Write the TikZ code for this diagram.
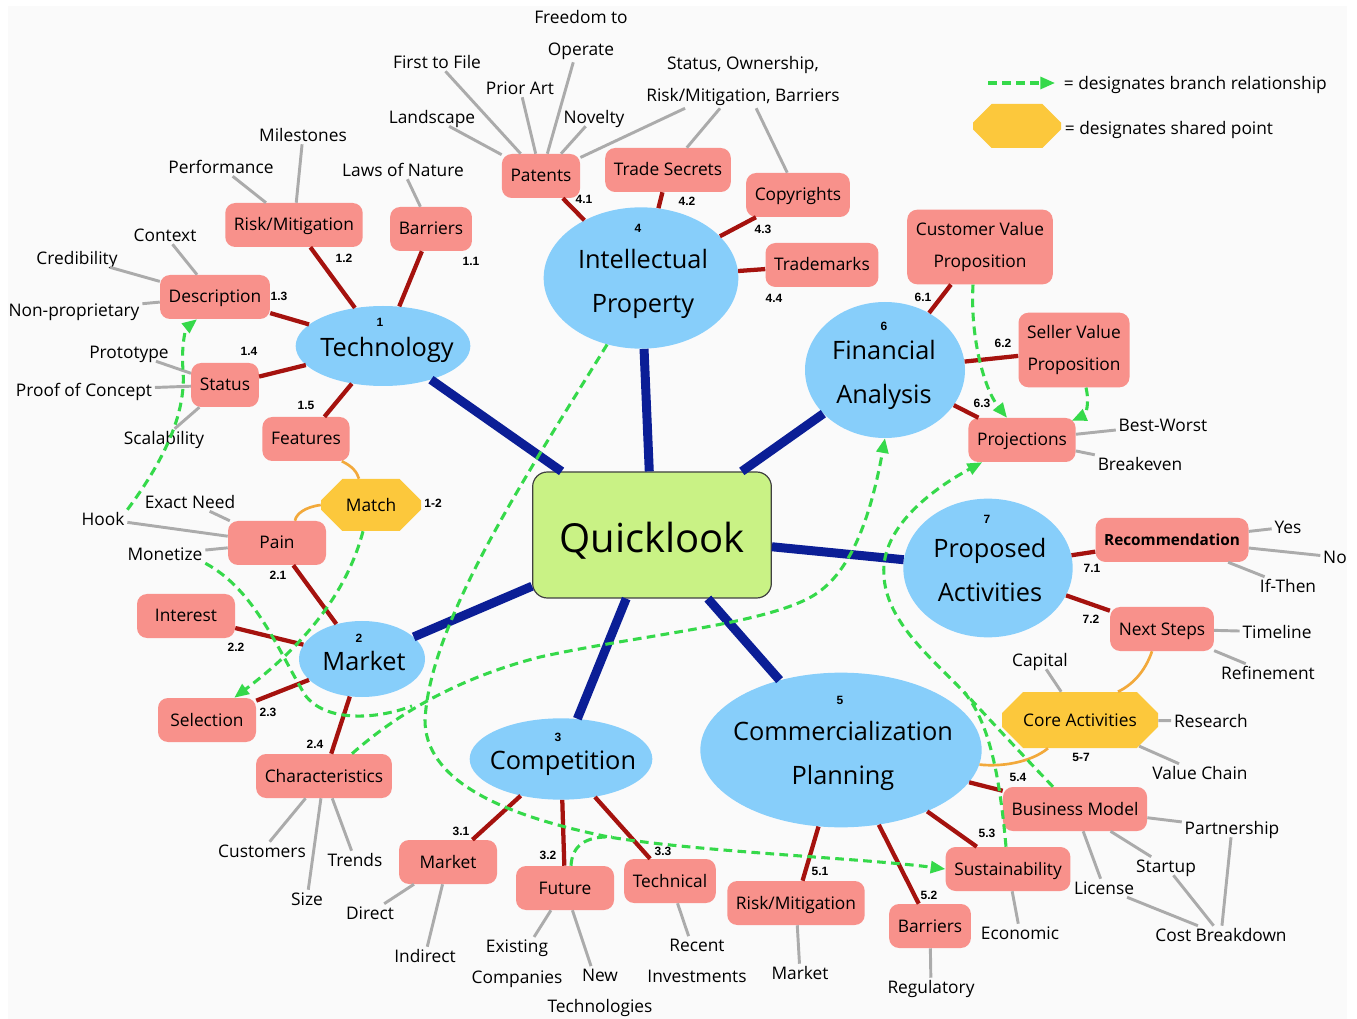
\documentclass[tikz,border=0pt]{standalone}
\usepackage{fontspec}
\setmainfont{Open Sans}
\newfontfamily\numfont{Liberation Sans}
\usetikzlibrary{shapes.geometric,shapes.misc,arrows.meta,calc}

\definecolor{paper}{HTML}{FAFAFA}
\definecolor{hubblue}{HTML}{87CEFA}
\definecolor{topicred}{HTML}{F8918B}
\definecolor{sharedyellow}{HTML}{FCC83C}
\definecolor{rootgreen}{HTML}{C9F285}
\definecolor{trunkblue}{HTML}{0B1E96}
\definecolor{twigred}{HTML}{A5120E}
\definecolor{leafgrey}{HTML}{ABABAB}
\definecolor{branchgreen}{HTML}{35D94A}
\definecolor{tieorange}{HTML}{F2A93B}

\begin{document}
\begin{tikzpicture}[x=0.75pt,y=-0.75pt,>={Triangle[length=11pt,width=9pt]},
    root/.style={rectangle,rounded corners=11pt,fill=rootgreen,draw=black!75,line width=0.9pt,minimum width=179pt,minimum height=94.5pt,font=\fontsize{30}{30}\selectfont,text height=27pt,text depth=0pt},
    hub/.style={ellipse,fill=hubblue,inner sep=0pt},
    hubtext/.style={font=\fontsize{19}{33.5}\selectfont,align=center,inner sep=0pt},
    num/.style={font=\numfont\bfseries\fontsize{9}{9}\selectfont,inner sep=0pt},
    topicbase/.style={rectangle,rounded corners=7.5pt,fill=topicred,inner xsep=6.5pt,minimum height=33pt,align=center,font=\fontsize{13}{23.5}\selectfont},
    topic/.style={topicbase,text height=11pt,text depth=2pt},
    leaf/.style={inner sep=2pt,font=\fontsize{13}{23.5}\selectfont,text height=9.5pt,text depth=0pt},
    leaftwo/.style={inner sep=2pt,font=\fontsize{13}{23.5}\selectfont,align=center},
    shared/.style={chamfered rectangle,fill=sharedyellow,inner sep=0pt,font=\fontsize{13}{23.5}\selectfont},
    trunk/.style={draw=trunkblue,line width=6.75pt},
    twig/.style={draw=twigred,line width=3.2pt},
    leafline/.style={draw=leafgrey,line width=2.2pt},
    branch/.style={draw=branchgreen,line width=2.3pt,dash pattern=on 6.5pt off 4pt},
    tie/.style={draw=tieorange,line width=2pt}]

    \useasboundingbox (0,0) rectangle (1357,1019);
    \fill[paper] (8,6) rectangle (1347,1019);

    % centre
    \node[root] (ql) at (652,535) {Quicklook};

    % main topics
    \node[hub,minimum width=131pt,minimum height=60pt] (tech) at (383,346) {};
    \node[hubtext] (techT) at (387,350) {Technology};
    \node[num] (techN) at (380,322) {1};

    \node[hub,minimum width=94.5pt,minimum height=57pt] (mkt) at (362,659) {};
    \node[hubtext] (mktT) at (364,661) {Market};
    \node[num] (mktN) at (359,638) {2};

    \node[hub,minimum width=137pt,minimum height=61pt] (comp) at (561,759) {};
    \node[hubtext] (compT) at (563,763) {Competition};
    \node[num] (compN) at (558,737) {3};

    \node[hub,minimum width=146pt,minimum height=106pt] (ip) at (641,278) {};
    \node[hubtext] (ipT) at (643,284) {Intellectual\\Property};
    \node[num] (ipN) at (638,228) {4};

    \node[hub,minimum width=211pt,minimum height=116pt] (comm) at (841,750) {};
    \node[hubtext] (commT) at (843,756) {Commercialization\\Planning};
    \node[num] (commN) at (840,700) {5};

    \node[hub,minimum width=120pt,minimum height=102pt] (fin) at (885,370) {};
    \node[hubtext] (finT) at (884,375) {Financial\\Analysis};
    \node[num] (finN) at (884,326) {6};

    \node[hub,minimum width=127pt,minimum height=104pt] (prop) at (988,568) {};
    \node[hubtext] (propT) at (990,570) {Proposed\\Activities};
    \node[num] (propN) at (987,519) {7};

    % technology
    \node[topic] (barr1) at (431,229) {Barriers};
    \node[topic] (risk1) at (294,225) {Risk/Mitigation};
    \node[topic] (desc) at (215,297) {Description};
    \node[topic] (stat) at (225,385) {Status};
    \node[topic] (feat) at (306,439) {Features};
    \node[leaf] (lawn) at (403,170) {Laws of Nature};
    \node[leaf] (perf) at (221,167) {Performance};
    \node[leaf] (mile) at (303,135) {Milestones};
    \node[leaf] (ctx) at (165,235) {Context};
    \node[leaf] (cred) at (77,258) {Credibility};
    \node[leaf] (nonp) at (74,310) {Non-proprietary};
    \node[leaf] (prot) at (129,352) {Prototype};
    \node[leaf] (poc) at (84,390) {Proof of Concept};
    \node[leaf] (scal) at (164,438) {Scalability};

    % market
    \node[shared,minimum width=75pt,minimum height=39pt,chamfered rectangle xsep=15pt,chamfered rectangle ysep=11pt] (match) at (371,505) {Match};
    \node[topic,minimum width=73.5pt] (pain) at (277,543) {Pain};
    \node[topic,minimum width=73.5pt] (intr) at (186,616) {Interest};
    \node[topic,minimum width=73.5pt] (sel) at (207,720) {Selection};
    \node[topic] (chr) at (324,776) {Characteristics};
    \node[leaf] (exn) at (190,502) {Exact Need};
    \node[leaf] (hook) at (103,519) {Hook};
    \node[leaf] (mon) at (165,554) {Monetize};
    \node[leaf] (cust) at (262,851) {Customers};
    \node[leaf] (size) at (307,899) {Size};
    \node[leaf] (trnd) at (355,860) {Trends};

    % competition
    \node[topic,minimum width=73.5pt] (cmkt) at (448,862) {Market};
    \node[topic,minimum width=73.5pt] (fut) at (565,888) {Future};
    \node[topic] (tecn) at (670,881) {Technical};
    \node[leaf] (dir) at (370,913) {Direct};
    \node[leaf] (indr) at (425,956) {Indirect};
    \node[leaftwo] (exco) at (517,964) {Existing\\Companies};
    \node[leaftwo] (newt) at (600,993) {New\\Technologies};
    \node[leaftwo] (rcnt) at (697,961) {Recent\\Investments};

    % intellectual property
    \node[topic] (pat) at (541,176) {Patents};
    \node[topic] (trs) at (668,170) {Trade Secrets};
    \node[topic] (cpy) at (798,195) {Copyrights};
    \node[topic] (tmk) at (822,265) {Trademarks};
    \node[leaf] (land) at (432,117) {Landscape};
    \node[leaf] (fst) at (437,62) {First to File};
    \node[leaf] (prior) at (520,88) {Prior Art};
    \node[leaftwo] (fto) at (581,35) {Freedom to\\Operate};
    \node[leaf] (nov) at (594,117) {Novelty};
    \node[leaftwo] (sorb) at (743,81) {Status, Ownership,\\Risk/Mitigation, Barriers};

    % financial analysis
    \node[topicbase,minimum height=56pt] (cvp) at (980,247) {Customer Value\\Proposition};
    \node[topicbase,minimum height=56pt] (svp) at (1074,350) {Seller Value\\Proposition};
    \node[topic] (proj) at (1022,440) {Projections};
    \node[leaf] (bw) at (1163,425) {Best-Worst};
    \node[leaf] (brk) at (1140,464) {Breakeven};

    % proposed activities
    \node[topic,font=\fontsize{11.5}{14}\selectfont\bfseries] (rec) at (1172,540) {Recommendation};
    \node[topic] (nxt) at (1162,629) {Next Steps};
    \node[leaf] (yes) at (1288,527) {Yes};
    \node[leaf] (no) at (1335,557) {No};
    \node[leaf] (ift) at (1288,586) {If-Then};
    \node[leaf] (tline) at (1277,632) {Timeline};
    \node[leaf] (refn) at (1268,673) {Refinement};

    % commercialization planning
    \node[shared,minimum width=117pt,minimum height=42pt,chamfered rectangle xsep=23pt,chamfered rectangle ysep=11pt] (core) at (1080,720) {Core Activities};
    \node[topic] (crm) at (796,903) {Risk/Mitigation};
    \node[topic] (cbar) at (930,926) {Barriers};
    \node[topic] (sus) at (1008,869) {Sustainability};
    \node[topic] (bm) at (1075,809) {Business Model};
    \node[leaf] (capt) at (1040,660) {Capital};
    \node[leaf] (resr) at (1211,721) {Research};
    \node[leaf] (vch) at (1200,773) {Value Chain};
    \node[leaf] (cmk) at (800,973) {Market};
    \node[leaf] (reg) at (931,987) {Regulatory};
    \node[leaf] (eco) at (1020,933) {Economic};
    \node[leaf] (part) at (1232,828) {Partnership};
    \node[leaf] (stup) at (1166,866) {Startup};
    \node[leaf] (lic) at (1104,888) {License};
    \node[leaf] (cbd) at (1221,935) {Cost Breakdown};

    % numbers
    \node[num] (n11) at (471,261) {1.1};
    \node[num] (n12) at (344,258) {1.2};
    \node[num] (n13) at (279,296) {1.3};
    \node[num] (n14) at (249,351) {1.4};
    \node[num] (n15) at (306,405) {1.5};
    \node[num] (n12m) at (433,503) {1-2};
    \node[num] (n21) at (278,575) {2.1};
    \node[num] (n22) at (236,647) {2.2};
    \node[num] (n23) at (268,712) {2.3};
    \node[num] (n24) at (315,744) {2.4};
    \node[num] (n31) at (461,831) {3.1};
    \node[num] (n32) at (548,855) {3.2};
    \node[num] (n33) at (663,851) {3.3};
    \node[num] (n41) at (584,199) {4.1};
    \node[num] (n42) at (687,201) {4.2};
    \node[num] (n43) at (763,229) {4.3};
    \node[num] (n44) at (774,298) {4.4};
    \node[num] (n51) at (820,871) {5.1};
    \node[num] (n52) at (929,895) {5.2};
    \node[num] (n53) at (987,833) {5.3};
    \node[num] (n54) at (1018,777) {5.4};
    \node[num] (n57) at (1081,757) {5-7};
    \node[num] (n61) at (923,297) {6.1};
    \node[num] (n62) at (1003,343) {6.2};
    \node[num] (n63) at (982,403) {6.3};
    \node[num] (n71) at (1092,568) {7.1};
    \node[num] (n72) at (1091,619) {7.2};

    % key
    \coordinate (keyS) at (988,83);
    \coordinate (keyE) at (1055,83);
    \node[leaf,anchor=west] (keyA) at (1061,83) {= designates branch relationship};
    \node[shared,minimum width=66pt,minimum height=33pt,chamfered rectangle xsep=19pt,chamfered rectangle ysep=9pt] (keyO) at (1017,126) {\phantom{Match}};
    \node[leaf,anchor=west] (keyB) at (1062,128) {= designates shared point};

    % trunks
    \draw[trunk] (ql) -- (tech);
    \draw[trunk] (ql) -- (ip);
    \draw[trunk] (ql) -- (fin);
    \draw[trunk] (ql) -- (prop);
    \draw[trunk] (ql) -- (comm);
    \draw[trunk] (ql) -- (comp);
    \draw[trunk] (ql) -- (mkt);

    % twigs
    \draw[twig] (tech) -- (barr1);
    \draw[twig] (tech) -- (risk1);
    \draw[twig] (tech) -- (desc);
    \draw[twig] (tech) -- (stat);
    \draw[twig] (tech) -- (feat);
    \draw[twig] (mkt) -- (pain);
    \draw[twig] (mkt) -- (intr);
    \draw[twig] (mkt) -- (sel);
    \draw[twig] (mkt) -- (chr);
    \draw[twig] (comp) -- (cmkt);
    \draw[twig] (comp) -- (fut);
    \draw[twig] (comp) -- (tecn);
    \draw[twig] (ip) -- (pat);
    \draw[twig] (ip) -- (trs);
    \draw[twig] (ip) -- (cpy);
    \draw[twig] (ip) -- (tmk);
    \draw[twig] (fin) -- (cvp);
    \draw[twig] (fin) -- (svp);
    \draw[twig] (fin) -- (proj);
    \draw[twig] (prop) -- (rec);
    \draw[twig] (prop) -- (nxt);
    \draw[twig] (comm) -- (crm);
    \draw[twig] (comm) -- (cbar);
    \draw[twig] (comm) -- (sus);
    \draw[twig] (comm) -- (bm);

    % leaves
    \draw[leafline] (barr1) -- (lawn);
    \draw[leafline] (risk1) -- (perf);
    \draw[leafline] (risk1) -- (mile);
    \draw[leafline] (desc) -- (ctx);
    \draw[leafline] (desc) -- (cred);
    \draw[leafline] (desc) -- (nonp);
    \draw[leafline] (stat) -- (prot);
    \draw[leafline] (stat) -- (poc);
    \draw[leafline] (stat) -- (scal);
    \draw[leafline] (pain) -- (exn);
    \draw[leafline] (pain) -- (hook);
    \draw[leafline] (pain) -- (mon);
    \draw[leafline] (chr) -- (cust);
    \draw[leafline] (chr) -- (size);
    \draw[leafline] (chr) -- (trnd);
    \draw[leafline] (cmkt) -- (dir);
    \draw[leafline] (cmkt) -- (indr);
    \draw[leafline] (fut) -- (exco);
    \draw[leafline] (fut) -- (newt);
    \draw[leafline] (tecn) -- (rcnt);
    \draw[leafline] (pat) -- (land);
    \draw[leafline] (pat) -- (fst);
    \draw[leafline] (pat) -- (prior);
    \draw[leafline] (pat) -- (fto);
    \draw[leafline] (pat) -- (nov);
    \draw[leafline] (pat) -- (sorb);
    \draw[leafline] (trs) -- (sorb);
    \draw[leafline] (cpy) -- (sorb);
    \draw[leafline] (proj) -- (bw);
    \draw[leafline] (proj) -- (brk);
    \draw[leafline] (rec) -- (yes);
    \draw[leafline] (rec) -- (no);
    \draw[leafline] (rec) -- (ift);
    \draw[leafline] (nxt) -- (tline);
    \draw[leafline] (nxt) -- (refn);
    \draw[leafline] (core) -- (capt);
    \draw[leafline] (core) -- (resr);
    \draw[leafline] (core) -- (vch);
    \draw[leafline] (crm) -- (cmk);
    \draw[leafline] (cbar) -- (reg);
    \draw[leafline] (sus) -- (eco);
    \draw[leafline] (bm) -- (part);
    \draw[leafline] (bm) -- (stup);
    \draw[leafline] (bm) -- (lic);
    \draw[leafline] (lic) -- (cbd);
    \draw[leafline] (stup) -- (cbd);
    \draw[leafline] (part) -- (cbd);

    % shared points
    \draw[tie] ($(feat.south east)+(-8,0)$) .. controls (352,466) and (357,472) .. ($(match.north)+(-12,0)$);
    \draw[tie] (match.west) .. controls (305,507) and (296,514) .. ($(pain.north)+(18,0)$);
    \draw[tie] ($(nxt.south)+(-10,0)$) .. controls (1145,672) and (1132,685) .. ($(core.north)+(38,0)$);
    \draw[tie] ($(core.south)+(-32,0)$) .. controls (1030,763) and (1000,767) .. (comm.-6);

    % branch relationships
    \coordinate (mergeA) at (412,706);
    \coordinate (mergeB) at (612,837);
    \coordinate (mergeC) at (964,692);
    \draw[branch,->] (hook.north east) .. controls (168,455) and (186,410) .. (183,370) .. controls (181,345) and (186,328) .. ($(desc.south)+(-18,0)$);
    \draw[branch,->] ($(chr.north)+(28,0)$) .. controls (390,720) and (450,680) .. (540,657) .. controls (640,635) and (760,625) .. (811,597) .. controls (850,575) and (870,520) .. (fin.south);
    \draw[branch] (mon.south east) .. controls (255,590) and (278,650) .. (305,695) .. controls (325,722) and (375,720) .. (mergeA);
    \draw[branch,->] ($(match.south)+(-8,0)$) .. controls (345,600) and (295,652) .. ($(sel.north east)+(-22,0)$);
    \draw[branch,->] (ip.243) .. controls (530,470) and (430,620) .. (425,720) .. controls (425,780) and (500,815) .. (609,837) .. controls (700,852) and (860,858) .. (sus.west);
    \draw[branch] ($(fut.north)+(6,0)$) .. controls (572,846) and (585,836) .. (mergeB);
    \draw[branch,->] ($(cvp.south)+(-7,0)$) .. controls (970,340) and (985,390) .. ($(proj.north)+(-15,0)$);
    \draw[branch,->] ($(svp.south)+(12,0)$) .. controls (1090,405) and (1085,415) .. ($(proj.north east)+(-4,3)$);
    \draw[branch,->] ($(sus.north)+(-2,0)$) .. controls (1000,780) and (990,720) .. (962,690) .. controls (925,652) and (880,615) .. (884,565) .. controls (888,520) and (940,485) .. ($(proj.south west)+(14,0)$);
    \draw[branch] ($(bm.north)+(-22,0)$) .. controls (1030,763) and (990,720) .. (mergeC);
    \draw[branch,->] (keyS) -- (keyE);
\end{tikzpicture}
\end{document}
